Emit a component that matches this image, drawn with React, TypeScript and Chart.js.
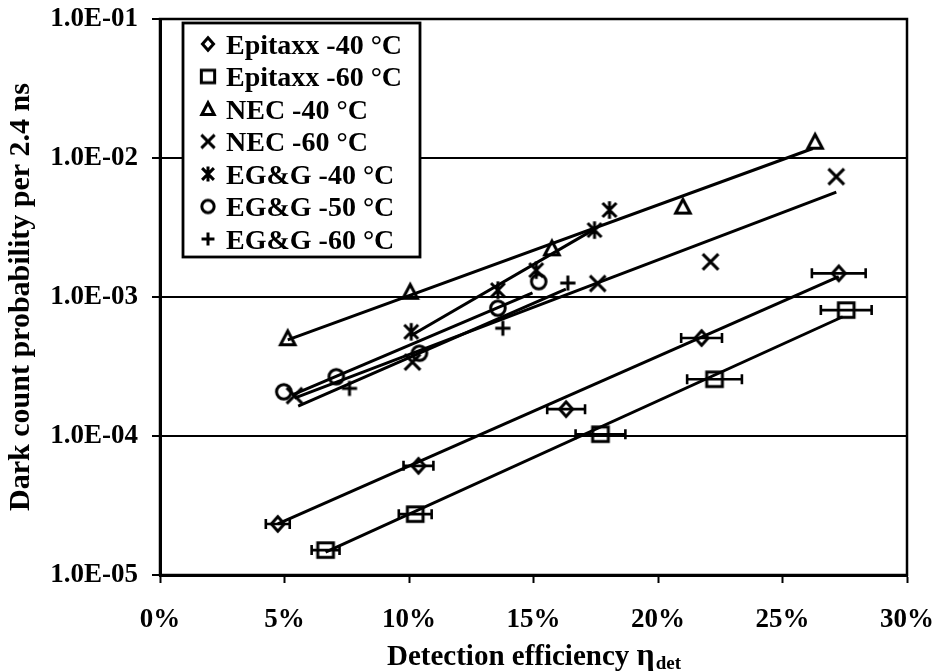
import React, { useEffect, useRef } from 'react';
import { Chart, registerables } from 'chart.js';

Chart.register(...registerables);

// ---------- tick data ----------
const xTickValues = [0, 5, 10, 15, 20, 25, 30];
const xTickLabels = ['0%', '5%', '10%', '15%', '20%', '25%', '30%'];
const yTickValues = [1e-5, 1e-4, 1e-3, 1e-2, 1e-1];
const yTickLabels = ['1.0E-05', '1.0E-04', '1.0E-03', '1.0E-02', '1.0E-01'];

// ---------- series labels ----------
const seriesLabels = [
  'Epitaxx -40 °C',
  'Epitaxx -60 °C',
  'NEC -40 °C',
  'NEC -60 °C',
  'EG&G -40 °C',
  'EG&G -50 °C',
  'EG&G -60 °C',
];

// ---------- measured points (x in %, y = dark count probability) ----------
const epi40X = [4.73, 10.38, 16.31, 21.75, 27.26];
const epi40Y = [2.33e-5, 6.1e-5, 1.56e-4, 5.07e-4, 1.48e-3];
const epi40Err = [0.48, 0.6, 0.76, 0.82, 1.08];

const epi60X = [6.65, 10.25, 17.69, 22.27, 27.56];
const epi60Y = [1.51e-5, 2.74e-5, 1.03e-4, 2.56e-4, 8.05e-4];
const epi60Err = [0.56, 0.66, 1.0, 1.1, 1.02];

const nec40X = [5.13, 10.05, 15.74, 21.0, 26.31];
const nec40Y = [5.05e-4, 1.09e-3, 2.24e-3, 4.47e-3, 1.31e-2];

const nec60X = [5.4, 10.14, 17.58, 22.11, 27.16];
const nec60Y = [1.95e-4, 3.4e-4, 1.25e-3, 1.79e-3, 7.34e-3];

const egg40X = [10.09, 13.57, 15.11, 17.45, 18.05];
const egg40Y = [5.62e-4, 1.12e-3, 1.56e-3, 3.03e-3, 4.23e-3];

const egg50X = [4.97, 7.08, 10.42, 13.57, 15.21];
const egg50Y = [2.08e-4, 2.67e-4, 3.94e-4, 8.3e-4, 1.29e-3];

const egg60X = [7.61, 13.77, 16.38];
const egg60Y = [2.2e-4, 5.96e-4, 1.26e-3];

// ---------- trend lines (start / end) ----------
const epi40TrendX = [4.73, 27.26];
const epi40TrendY = [2.33e-5, 1.4e-3];
const epi60TrendX = [6.65, 27.42];
const epi60TrendY = [1.46e-5, 7.21e-4];
const nec40TrendX = [5.13, 26.22];
const nec40TrendY = [4.91e-4, 1.17e-2];
const nec60TrendX = [5.4, 27.16];
const nec60TrendY = [1.87e-4, 5.69e-3];
const egg40TrendX = [10.05, 17.45];
const egg40TrendY = [5.24e-4, 3.08e-3];
const egg50TrendX = [5.3, 14.96];
const egg50TrendY = [1.97e-4, 1.07e-3];
const egg60TrendX = [5.55, 16.3];
const egg60TrendY = [1.64e-4, 1.14e-3];

const FONT = "'Liberation Serif', 'Times New Roman', serif";

type Shape = 'diamond' | 'square' | 'triangle' | 'x' | 'star' | 'circle' | 'plus';
const shapes: Shape[] = ['diamond', 'square', 'triangle', 'x', 'star', 'circle', 'plus'];

function makeMarker(shape: Shape, k: number, lw: number): HTMLCanvasElement {
  const size = 32;
  const c = document.createElement('canvas');
  c.width = size;
  c.height = size;
  const g = c.getContext('2d') as CanvasRenderingContext2D;
  g.strokeStyle = '#000';
  g.lineWidth = lw;
  g.lineJoin = 'miter';
  const m = size / 2;
  g.beginPath();
  switch (shape) {
    case 'diamond':
      g.moveTo(m, m - 6.5 * k);
      g.lineTo(m + 5.8 * k, m);
      g.lineTo(m, m + 6.5 * k);
      g.lineTo(m - 5.8 * k, m);
      g.closePath();
      break;
    case 'square':
      g.rect(m - 7 * k, m - 6.5 * k, 14 * k, 13 * k);
      break;
    case 'triangle':
      g.moveTo(m, m - 6.5 * k);
      g.lineTo(m + 6.5 * k, m + 5.8 * k);
      g.lineTo(m - 6.5 * k, m + 5.8 * k);
      g.closePath();
      break;
    case 'x':
      g.moveTo(m - 7 * k, m - 7 * k);
      g.lineTo(m + 7 * k, m + 7 * k);
      g.moveTo(m + 7 * k, m - 7 * k);
      g.lineTo(m - 7 * k, m + 7 * k);
      break;
    case 'star':
      g.moveTo(m - 6.2 * k, m - 6.2 * k);
      g.lineTo(m + 6.2 * k, m + 6.2 * k);
      g.moveTo(m + 6.2 * k, m - 6.2 * k);
      g.lineTo(m - 6.2 * k, m + 6.2 * k);
      g.moveTo(m, m - 7.8 * k);
      g.lineTo(m, m + 7.8 * k);
      break;
    case 'circle':
      g.arc(m, m, 6.5 * k, 0, Math.PI * 2);
      break;
    case 'plus':
      g.moveTo(m - 6.8 * k, m);
      g.lineTo(m + 6.8 * k, m);
      g.moveTo(m, m - 6.8 * k);
      g.lineTo(m, m + 6.8 * k);
      break;
  }
  g.stroke();
  return c;
}

const pts = (xs: number[], ys: number[]) => xs.map((x, i) => ({ x, y: ys[i] }));

export default function App() {
  const ref = useRef<HTMLCanvasElement>(null);

  useEffect(() => {
    document.body.style.margin = '0';
    const canvas = ref.current;
    if (!canvas) return;

    const plotMarkers = shapes.map((s) => makeMarker(s, 1.12, 3));
    const legendMarkers = shapes.map((s) => makeMarker(s, 0.95, 3));

    const pointSets = [
      pts(epi40X, epi40Y),
      pts(epi60X, epi60Y),
      pts(nec40X, nec40Y),
      pts(nec60X, nec60Y),
      pts(egg40X, egg40Y),
      pts(egg50X, egg50Y),
      pts(egg60X, egg60Y),
    ];
    const trendSets = [
      pts(epi40TrendX, epi40TrendY),
      pts(epi60TrendX, epi60TrendY),
      pts(nec40TrendX, nec40TrendY),
      pts(nec60TrendX, nec60TrendY),
      pts(egg40TrendX, egg40TrendY),
      pts(egg50TrendX, egg50TrendY),
      pts(egg60TrendX, egg60TrendY),
    ];

    const datasets: any[] = [];
    pointSets.forEach((data, i) => {
      datasets.push({
        label: seriesLabels[i],
        data,
        showLine: false,
        pointStyle: plotMarkers[i],
        pointRadius: 8,
        borderColor: '#000',
        backgroundColor: 'rgba(0,0,0,0)',
        order: 0,
      });
    });
    trendSets.forEach((data, i) => {
      datasets.push({
        label: seriesLabels[i] + ' trend',
        data,
        showLine: true,
        pointRadius: 0,
        borderColor: '#000',
        borderWidth: 3,
        backgroundColor: 'rgba(0,0,0,0)',
        order: 1,
      });
    });

    const errorSets = [
      { xs: epi40X, ys: epi40Y, err: epi40Err },
      { xs: epi60X, ys: epi60Y, err: epi60Err },
    ];

    const framePlugin = {
      id: 'frame',
      beforeDatasetsDraw(chart: any) {
        const { ctx, chartArea: ca } = chart;
        ctx.save();
        ctx.strokeStyle = '#000';
        ctx.lineWidth = 2.5;
        ctx.strokeRect(ca.left, ca.top, ca.right - ca.left, ca.bottom - ca.top);
        ctx.restore();
      },
    };

    const errorPlugin = {
      id: 'errorbars',
      afterDatasetsDraw(chart: any) {
        const { ctx } = chart;
        const xs = chart.scales.x;
        const ys = chart.scales.y;
        ctx.save();
        ctx.strokeStyle = '#000';
        ctx.lineWidth = 2.6;
        errorSets.forEach((set) => {
          set.xs.forEach((x, i) => {
            const py = ys.getPixelForValue(set.ys[i]);
            const x1 = xs.getPixelForValue(x - set.err[i]);
            const x2 = xs.getPixelForValue(x + set.err[i]);
            ctx.beginPath();
            ctx.moveTo(x1, py);
            ctx.lineTo(x2, py);
            ctx.moveTo(x1, py - 5);
            ctx.lineTo(x1, py + 5);
            ctx.moveTo(x2, py - 5);
            ctx.lineTo(x2, py + 5);
            ctx.stroke();
          });
        });
        ctx.restore();
      },
    };

    const legendPlugin = {
      id: 'boxLegend',
      afterDraw(chart: any) {
        const { ctx, chartArea: ca } = chart;
        const left = ca.left + 23;
        const top = ca.top + 4;
        const w = 237;
        const h = 234;
        ctx.save();
        ctx.fillStyle = '#fff';
        ctx.fillRect(left, top, w, h);
        ctx.strokeStyle = '#000';
        ctx.lineWidth = 2.8;
        ctx.strokeRect(left, top, w, h);
        ctx.font = `bold 28px ${FONT}`;
        ctx.fillStyle = '#000';
        ctx.textBaseline = 'alphabetic';
        ctx.textAlign = 'left';
        seriesLabels.forEach((lab, i) => {
          const cy = top + 21 + i * 32.5;
          const mk = legendMarkers[i];
          ctx.drawImage(mk, left + 25 - mk.width / 2, cy - mk.height / 2);
          ctx.fillText(lab, left + 43, cy + 9.5);
        });
        ctx.restore();
      },
    };

    const xTitlePlugin = {
      id: 'xTitle',
      afterDraw(chart: any) {
        const { ctx } = chart;
        ctx.save();
        ctx.fillStyle = '#000';
        ctx.textBaseline = 'alphabetic';
        ctx.textAlign = 'left';
        const main = 'Detection efficiency ';
        ctx.font = `bold 29px ${FONT}`;
        const w1 = ctx.measureText(main).width;
        ctx.font = `bold 32px ${FONT}`;
        const w2 = ctx.measureText('η').width;
        ctx.font = `bold 19px ${FONT}`;
        const w3 = ctx.measureText('det').width;
        const ca = chart.chartArea;
        const x0 = (ca.left + ca.right) / 2 - (w1 + w2 + w3) / 2;
        const base = 665;
        ctx.font = `bold 29px ${FONT}`;
        ctx.fillText(main, x0, base);
        ctx.font = `bold 32px ${FONT}`;
        ctx.fillText('η', x0 + w1, base);
        ctx.font = `bold 19px ${FONT}`;
        ctx.fillText('det', x0 + w1 + w2 + 1, base + 4);
        ctx.restore();
      },
    };

    const chart = new Chart(canvas, {
      type: 'scatter',
      data: { datasets },
      plugins: [framePlugin, errorPlugin, legendPlugin, xTitlePlugin],
      options: {
        responsive: false,
        animation: false,
        devicePixelRatio: 1,
        layout: { padding: { left: 0, top: 19, right: 34, bottom: 0 } },
        plugins: {
          legend: { display: false },
          tooltip: { enabled: false },
          title: { display: false },
        },
        scales: {
          x: {
            type: 'linear',
            min: 0,
            max: 30,
            afterBuildTicks(scale: any) {
              scale.ticks = xTickValues.map((v) => ({ value: v }));
            },
            afterFit(scale: any) {
              scale.height = 96;
              scale.paddingLeft = 0;
              scale.paddingRight = 0;
            },
            ticks: {
              callback: (_v: any, i: number) => xTickLabels[i],
              font: { family: FONT, size: 27, weight: 'bold' },
              color: '#000',
              padding: 21,
              maxRotation: 0,
              autoSkip: false,
            },
            grid: {
              drawOnChartArea: false,
              drawTicks: true,
              tickLength: 8,
              tickWidth: 2,
              tickColor: '#000',
              color: '#000',
            },
            border: { display: true, color: '#000', width: 3 },
            title: { display: false },
          },
          y: {
            type: 'logarithmic',
            min: 1e-5,
            max: 1e-1,
            afterBuildTicks(scale: any) {
              scale.ticks = yTickValues.map((v) => ({ value: v }));
            },
            afterFit(scale: any) {
              scale.width = 160;
              scale.paddingTop = 0;
              scale.paddingBottom = 0;
            },
            ticks: {
              callback: (_v: any, i: number) => yTickLabels[i],
              font: { family: FONT, size: 27, weight: 'bold' },
              color: '#000',
              padding: 14,
              autoSkip: false,
            },
            grid: {
              drawOnChartArea: true,
              drawTicks: true,
              tickLength: 8,
              lineWidth: 2,
              tickWidth: 2,
              color: '#000',
              tickColor: '#000',
            },
            border: { display: true, color: '#000', width: 3 },
            title: {
              display: true,
              text: 'Dark count probability per 2.4 ns',
              font: { family: FONT, size: 30, weight: 'bold', lineHeight: 1 },
              color: '#000',
              padding: { top: 6, bottom: 0 },
            },
          },
        },
      } as any,
    });

    return () => chart.destroy();
  }, []);

  return (
    <div style={{ width: 941, height: 671 }}>
      <canvas ref={ref} width={941} height={671} style={{ display: 'block' }} />
    </div>
  );
}
